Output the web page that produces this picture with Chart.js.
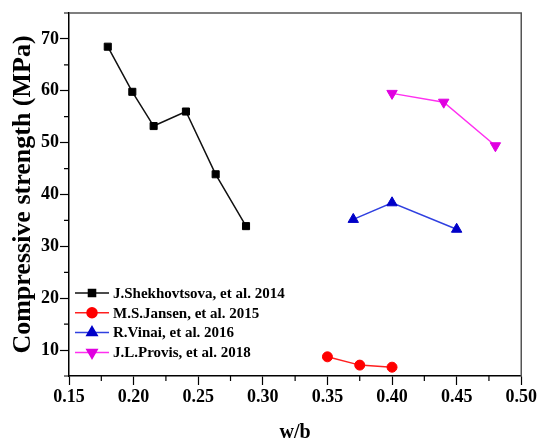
<!DOCTYPE html>
<html><head><meta charset="utf-8">
<script src="https://cdn.jsdelivr.net/npm/chart.js@4"></script>
<style>html,body{margin:0;padding:0;background:#fff}#wrap{width:539px;height:442px}</style>
</head><body><div id="wrap"><canvas id="c" width="539" height="442"></canvas></div>
<script>
const seriesNames = ['J.Shekhovtsova, et al. 2014','M.S.Jansen, et al. 2015','R.Vinai, et al. 2016','J.L.Provis, et al. 2018'];
const shekX = [0.18, 0.199, 0.2155, 0.2405, 0.2635, 0.287];
const shekY = [68.5, 59.8, 53.2, 56.0, 43.9, 33.9];
const jansenX = [0.35, 0.375, 0.40];
const jansenY = [8.7, 7.1, 6.7];
const vinaiX = [0.37, 0.40, 0.45];
const vinaiY = [35.2, 38.4, 33.3];
const provisX = [0.40, 0.44, 0.48];
const provisY = [59.5, 57.8, 49.4];
const xTicks = [0.15, 0.20, 0.25, 0.30, 0.35, 0.40, 0.45, 0.50];
const xTickLabels = ['0.15','0.20','0.25','0.30','0.35','0.40','0.45','0.50'];
const yTicks = [10, 20, 30, 40, 50, 60, 70];
const yTickLabels = ['10','20','30','40','50','60','70'];
const xTitle = 'w/b';
const yTitle = 'Compressive strength (MPa)';

const pts = (xs, ys) => xs.map((x, i) => ({x, y: ys[i]}));
const FONT = '"Liberation Serif", "Times New Roman", serif';

const styles = [
  {line:'#111111', fill:'#000000', style:'rect', radius:5, rot:0},
  {line:'#ff2020', fill:'#ff0000', style:'circle', radius:5, rot:0},
  {line:'#3040e0', fill:'#0000c8', style:'triangle', radius:6, rot:0},
  {line:'#ff30f0', fill:'#e000e0', style:'triangle', radius:6, rot:180}
];
const dataSets = [pts(shekX, shekY), pts(jansenX, jansenY), pts(vinaiX, vinaiY), pts(provisX, provisY)];

const frame = {
  id: 'frame',
  afterDraw(chart) {
    const {ctx, chartArea: a, scales} = chart;
    ctx.save();
    ctx.strokeStyle = '#555';
    ctx.lineWidth = 1.5;
    ctx.beginPath();
    ctx.moveTo(a.left, a.top); ctx.lineTo(a.right, a.top); ctx.lineTo(a.right, a.bottom);
    ctx.stroke();
    ctx.strokeStyle = '#000';
    ctx.lineWidth = 1.2;
    ctx.beginPath();
    for (let i = 0; i < xTicks.length - 1; i++) {
      const px = scales.x.getPixelForValue((xTicks[i] + xTicks[i+1]) / 2);
      ctx.moveTo(px, a.bottom); ctx.lineTo(px, a.bottom + 5);
    }
    const yMinor = [5].concat(yTicks.map(v => v + 5));
    yMinor.forEach(v => {
      const py = scales.y.getPixelForValue(v);
      ctx.moveTo(a.left, py); ctx.lineTo(a.left - 5, py);
    });
    ctx.stroke();
    chart.data.datasets.forEach((ds, i) => {
      const y = 293 + i * 19.8;
      ctx.strokeStyle = ds.borderColor;
      ctx.lineWidth = 1.5;
      ctx.beginPath(); ctx.moveTo(75, y); ctx.lineTo(109, y); ctx.stroke();
      ctx.fillStyle = ds.pointBackgroundColor;
      ctx.strokeStyle = ds.pointBorderColor;
      Chart.helpers.drawPoint(ctx, {pointStyle: ds.pointStyle, rotation: ds.pointRotation, radius: ds.pointRadius, borderWidth: 1}, 92, y);
      ctx.fillStyle = '#000';
      ctx.font = 'bold 15px ' + FONT;
      ctx.textBaseline = 'middle';
      ctx.textAlign = 'left';
      ctx.fillText(ds.label, 113, y + 1);
    });
    ctx.restore();
  }
};

new Chart(document.getElementById('c'), {
  type: 'scatter',
  data: {
    datasets: dataSets.map((d, i) => ({
      label: seriesNames[i],
      data: d,
      showLine: true,
      borderColor: styles[i].line,
      borderWidth: 1.5,
      pointStyle: styles[i].style,
      pointRotation: styles[i].rot,
      pointRadius: styles[i].radius,
      pointHoverRadius: styles[i].radius,
      pointBackgroundColor: styles[i].fill,
      pointBorderColor: styles[i].fill,
      pointBorderWidth: 1
    }))
  },
  options: {
    responsive: false,
    animation: false,
    devicePixelRatio: 1,
    layout: {padding: {left: 0, right: 15, top: 13, bottom: 0}},
    plugins: {legend: {display: false}, tooltip: {enabled: false}},
    scales: {
      x: {
        type: 'linear', min: 0.15, max: 0.5,
        afterBuildTicks: s => { s.ticks = xTicks.map(v => ({value: v})); },
        afterFit: s => { s.height = 66; },
        ticks: {
          callback: (v, i) => xTickLabels[i],
          color: '#000', font: {family: FONT, size: 18, weight: 'bold'}, padding: 2, maxRotation: 0
        },
        grid: {drawOnChartArea: false, drawTicks: true, tickLength: 9, tickColor: '#000', tickWidth: 1.2},
        border: {color: '#000', width: 1.5},
        title: {display: true, text: xTitle, color: '#000', font: {family: FONT, size: 20, weight: 'bold', lineHeight: 0.9}, padding: {top: 8, bottom: 0}}
      },
      y: {
        type: 'linear', min: 5, max: 75,
        afterBuildTicks: s => { s.ticks = yTicks.map(v => ({value: v})); },
        afterFit: s => { s.width = 69; },
        ticks: {
          callback: (v, i) => yTickLabels[i],
          color: '#000', font: {family: FONT, size: 18, weight: 'bold'}, padding: 1
        },
        grid: {drawOnChartArea: false, drawTicks: true, tickLength: 9, tickColor: '#000', tickWidth: 1.2},
        border: {color: '#000', width: 1.5},
        title: {display: true, text: yTitle, color: '#000', font: {family: FONT, size: 26, weight: 'bold'}, padding: {top: 8, bottom: 0}}
      }
    }
  },
  plugins: [frame]
});
</script>
</body></html>
